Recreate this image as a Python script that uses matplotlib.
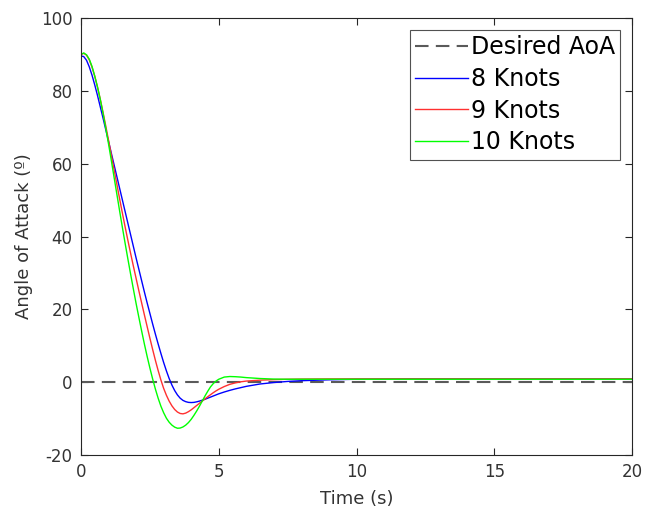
import matplotlib
matplotlib.use("Agg")
import matplotlib.pyplot as plt

plt.rcParams['axes.unicode_minus'] = False

t = [0.0, 0.1, 0.2, 0.3, 0.4, 0.5, 0.6, 0.7, 0.8, 0.9,
     1.0, 1.1, 1.2, 1.3, 1.4, 1.5, 1.6, 1.7, 1.8, 1.9,
     2.0, 2.1, 2.2, 2.3, 2.4, 2.5, 2.6, 2.7, 2.8, 2.9,
     3.0, 3.1, 3.2, 3.3, 3.4, 3.5, 3.6, 3.7, 3.8, 3.9,
     4.0, 4.1, 4.2, 4.3, 4.4, 4.5, 4.6, 4.7, 4.8, 4.9,
     5.0, 5.2, 5.4, 5.6, 5.8, 6.0, 6.5, 7.0, 7.5, 8.0,
     9.0, 10.0, 11.0, 12.0, 14.0, 16.0, 18.0, 20.0]

aoa_8 = [89.6, 89.4, 88.4, 86.6, 84.3, 81.6, 78.7, 75.6, 72.5, 69.3,
         66.1, 62.9, 59.7, 56.5, 53.3, 50.1, 46.9, 43.7, 40.5, 37.3,
         34.1, 31.0, 27.9, 24.8, 21.8, 18.9, 16.0, 13.2, 10.5, 7.9,
         5.4, 3.1, 1.0, -0.8, -2.3, -3.5, -4.4, -5.0, -5.35, -5.55,
         -5.6, -5.55, -5.4, -5.2, -4.95, -4.7, -4.4, -4.1, -3.8, -3.5,
         -3.2, -2.7, -2.25, -1.85, -1.5, -1.15, -0.5, -0.1, 0.2, 0.4,
         0.65, 0.8, 0.85, 0.9, 0.9, 0.9, 0.9, 0.9]

aoa_9 = [90.0, 90.3, 89.8, 88.5, 86.5, 84.0, 81.0, 77.7, 74.1, 70.3,
         66.4, 62.4, 58.4, 54.4, 50.4, 46.5, 42.7, 39.0, 35.4, 31.9,
         28.5, 25.1, 21.8, 18.5, 15.3, 12.1, 9.0, 6.0, 3.2, 0.6,
         -1.7, -3.6, -5.2, -6.5, -7.5, -8.2, -8.6, -8.7, -8.5, -8.1,
         -7.6, -7.0, -6.4, -5.8, -5.2, -4.6, -4.0, -3.45, -2.9, -2.4,
         -1.95, -1.2, -0.6, -0.2, 0.1, 0.3, 0.55, 0.7, 0.8, 0.85,
         0.9, 0.9, 0.9, 0.9, 0.9, 0.9, 0.9, 0.9]

aoa_10 = [90.0, 90.4, 89.9, 88.7, 86.7, 84.0, 81.0, 77.6, 73.8, 69.7,
          65.4, 60.9, 56.3, 51.7, 47.1, 42.6, 38.2, 33.9, 29.7, 25.6,
          21.6, 17.8, 14.1, 10.5, 7.1, 3.9, 0.9, -1.9, -4.4, -6.6,
          -8.4, -9.9, -11.0, -11.8, -12.35, -12.65, -12.6, -12.3, -11.8, -11.1,
          -10.2, -9.1, -7.9, -6.6, -5.2, -3.8, -2.5, -1.3, -0.4, 0.3,
          0.8, 1.4, 1.55, 1.5, 1.4, 1.25, 1.0, 0.85, 0.8, 0.8,
          0.8, 0.8, 0.8, 0.8, 0.8, 0.8, 0.8, 0.8]

desired_t = [0, 20]
desired_aoa = [0, 0]

xticks = [0, 5, 10, 15, 20]
yticks = [-20, 0, 20, 40, 60, 80, 100]

fig = plt.figure(figsize=(6.46, 5.12), dpi=100)
ax = fig.add_axes([81 / 646, 57 / 512, 551 / 646, 437 / 512])

ax.plot(desired_t, desired_aoa, color='#5a5a5a', linestyle=(0, (6.5, 3.5)),
        linewidth=1.5, label='Desired AoA')
ax.plot(t, aoa_8, color='#0000ff', linewidth=1.0, label='8 Knots')
ax.plot(t, aoa_9, color='#ff3030', linewidth=1.0, label='9 Knots')
ax.plot(t, aoa_10, color='#00ff00', linewidth=1.0, label='10 Knots')

ax.set_xlim(0, 20)
ax.set_ylim(-20, 100)
ax.set_xticks(xticks)
ax.set_yticks(yticks)
ax.tick_params(direction='in', length=5, width=0.8, labelsize=12,
               colors='#262626', labelcolor='#333333', top=True, right=True, pad=6)
for s in ax.spines.values():
    s.set_color('#262626')
    s.set_linewidth(0.8)
ax.set_xlabel('Time (s)', fontsize=13, color='#333333', labelpad=6)
ax.set_ylabel('Angle of Attack (º)', fontsize=13, color='#333333', labelpad=6)

leg = ax.legend(loc='upper right', fontsize=17, frameon=True, fancybox=False,
                edgecolor='#262626', handlelength=2.25, handletextpad=0.12,
                borderpad=0.22, labelspacing=0.33, borderaxespad=0.5)
leg.get_frame().set_linewidth(0.8)

fig.savefig('out.png', dpi=100)
